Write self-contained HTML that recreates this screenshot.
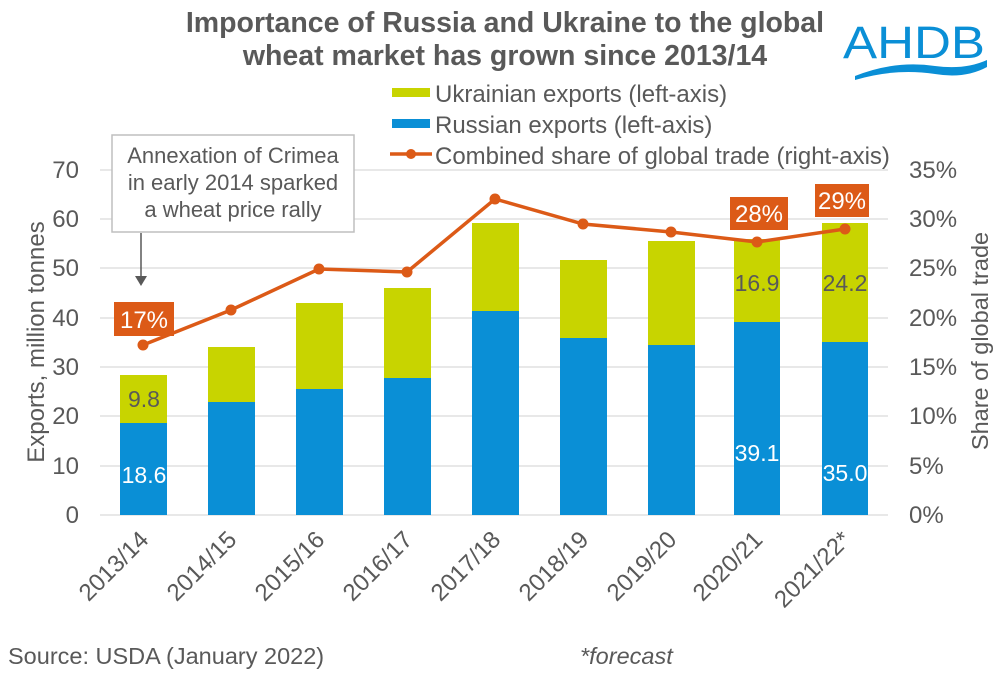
<!DOCTYPE html>
<html><head><meta charset="utf-8"><style>body{margin:0;background:#fff}svg{display:block}text{font-family:"Liberation Sans",sans-serif}</style></head><body>
<svg width="993" height="673" viewBox="0 0 993 673" xmlns="http://www.w3.org/2000/svg">
<rect width="993" height="673" fill="#fff"/>
<text x="505" y="32" text-anchor="middle" font-size="28.5" font-weight="bold" fill="#595959">Importance of Russia and Ukraine to the global</text>
<text x="505" y="65" text-anchor="middle" font-size="28.5" font-weight="bold" fill="#595959">wheat market has grown since 2013/14</text>
<text x="843" y="58" font-size="45" fill="#0a8fd6" textLength="142" lengthAdjust="spacingAndGlyphs">AHDB</text>
<path d="M855 76 Q895 60 935 66 Q965 70 987 60 L987 67 Q965 79 935 74 Q895 68 855 80Z" fill="#0a8fd6"/>
<g stroke="#e0e0e0" stroke-width="1.5">
<line x1="100" y1="170" x2="888" y2="170"/><line x1="100" y1="219" x2="888" y2="219"/><line x1="100" y1="268" x2="888" y2="268"/><line x1="100" y1="318" x2="888" y2="318"/><line x1="100" y1="367" x2="888" y2="367"/><line x1="100" y1="416" x2="888" y2="416"/><line x1="100" y1="466" x2="888" y2="466"/><line x1="100" y1="515" x2="888" y2="515"/>
</g>
<g font-size="24" fill="#595959" text-anchor="end">
<text x="79" y="178">70</text><text x="79" y="227">60</text><text x="79" y="276">50</text><text x="79" y="326">40</text><text x="79" y="375">30</text><text x="79" y="424">20</text><text x="79" y="474">10</text><text x="79" y="523">0</text>
</g>
<g font-size="24" fill="#595959" text-anchor="start">
<text x="909" y="178">35%</text><text x="909" y="227">30%</text><text x="909" y="276">25%</text><text x="909" y="326">20%</text><text x="909" y="375">15%</text><text x="909" y="424">10%</text><text x="909" y="474">5%</text><text x="909" y="523">0%</text>
</g>
<text transform="translate(44,342) rotate(-90)" text-anchor="middle" font-size="24" fill="#595959">Exports, million tonnes</text>
<text transform="translate(988,341) rotate(-90)" text-anchor="middle" font-size="23.5" fill="#595959">Share of global trade</text>
<g>
<rect x="120" y="423" width="47" height="92" fill="#0a8fd6"/><rect x="120" y="375" width="47" height="48" fill="#c8d400"/>
<rect x="208" y="402" width="47" height="113" fill="#0a8fd6"/><rect x="208" y="347" width="47" height="55" fill="#c8d400"/>
<rect x="296" y="389" width="47" height="126" fill="#0a8fd6"/><rect x="296" y="303" width="47" height="86" fill="#c8d400"/>
<rect x="384" y="378" width="47" height="137" fill="#0a8fd6"/><rect x="384" y="288" width="47" height="90" fill="#c8d400"/>
<rect x="472" y="311" width="47" height="204" fill="#0a8fd6"/><rect x="472" y="223" width="47" height="88" fill="#c8d400"/>
<rect x="560" y="338" width="47" height="177" fill="#0a8fd6"/><rect x="560" y="260" width="47" height="78" fill="#c8d400"/>
<rect x="648" y="345" width="47" height="170" fill="#0a8fd6"/><rect x="648" y="241" width="47" height="104" fill="#c8d400"/>
<rect x="734" y="322" width="46" height="193" fill="#0a8fd6"/><rect x="734" y="239" width="46" height="83" fill="#c8d400"/>
<rect x="822" y="342" width="46" height="173" fill="#0a8fd6"/><rect x="822" y="223" width="46" height="119" fill="#c8d400"/>
</g>
<g font-size="23" text-anchor="middle">
<text x="144" y="483" fill="#fff">18.6</text><text x="144" y="407" fill="#595959">9.8</text>
<text x="757" y="461" fill="#fff">39.1</text><text x="757" y="291" fill="#595959">16.9</text>
<text x="845" y="481" fill="#fff">35.0</text><text x="845" y="291" fill="#595959">24.2</text>
</g>
<polyline points="143,345 231,310 319,269 407,272 495,199 583,224 671,232 757,242 845,229" fill="none" stroke="#dc5a17" stroke-width="3.5"/>
<g fill="#dc5a17">
<circle cx="143" cy="345" r="5.5"/><circle cx="231" cy="310" r="5.5"/><circle cx="319" cy="269" r="5.5"/><circle cx="407" cy="272" r="5.5"/><circle cx="495" cy="199" r="5.5"/><circle cx="583" cy="224" r="5.5"/><circle cx="671" cy="232" r="5.5"/><circle cx="757" cy="242" r="5.5"/><circle cx="845" cy="229" r="5.5"/>
<rect x="114" y="302" width="60" height="34"/><rect x="730" y="197" width="58" height="33"/><rect x="815" y="184" width="54" height="33"/>
</g>
<g font-size="24" fill="#fff" text-anchor="middle">
<text x="144" y="328">17%</text><text x="759" y="222">28%</text><text x="842" y="209">29%</text>
</g>
<rect x="112" y="135" width="242" height="97" fill="#fff" stroke="#bfbfbf" stroke-width="1.5"/>
<g font-size="22" fill="#595959" text-anchor="middle">
<text x="233" y="163">Annexation of Crimea</text><text x="233" y="190">in early 2014 sparked</text><text x="233" y="217">a wheat price rally</text>
</g>
<line x1="141" y1="233" x2="141" y2="278" stroke="#595959" stroke-width="1.5"/>
<path d="M135 276 L147 276 L141 286Z" fill="#595959"/>
<rect x="392" y="88" width="38" height="9" fill="#c8d400"/>
<rect x="392" y="119" width="38" height="9" fill="#0a8fd6"/>
<line x1="390" y1="154" x2="432" y2="154" stroke="#dc5a17" stroke-width="3.5"/><circle cx="411" cy="154" r="5" fill="#dc5a17"/>
<g font-size="24" fill="#595959">
<text x="435" y="102">Ukrainian exports (left-axis)</text>
<text x="435" y="133">Russian exports (left-axis)</text>
<text x="435" y="164">Combined share of global trade (right-axis)</text>
</g>
<g font-size="24" fill="#595959" text-anchor="end">
<text transform="translate(150,541) rotate(-45)">2013/14</text>
<text transform="translate(238,541) rotate(-45)">2014/15</text>
<text transform="translate(326,541) rotate(-45)">2015/16</text>
<text transform="translate(414,541) rotate(-45)">2016/17</text>
<text transform="translate(502,541) rotate(-45)">2017/18</text>
<text transform="translate(590,541) rotate(-45)">2018/19</text>
<text transform="translate(678,541) rotate(-45)">2019/20</text>
<text transform="translate(764,541) rotate(-45)">2020/21</text>
<text transform="translate(852,541) rotate(-45)">2021/22*</text>
</g>
<text x="8" y="664" font-size="23.5" fill="#595959">Source: USDA (January 2022)</text>
<text x="580" y="664" font-size="23.5" font-style="italic" fill="#595959">*forecast</text>
</svg>
</body></html>
